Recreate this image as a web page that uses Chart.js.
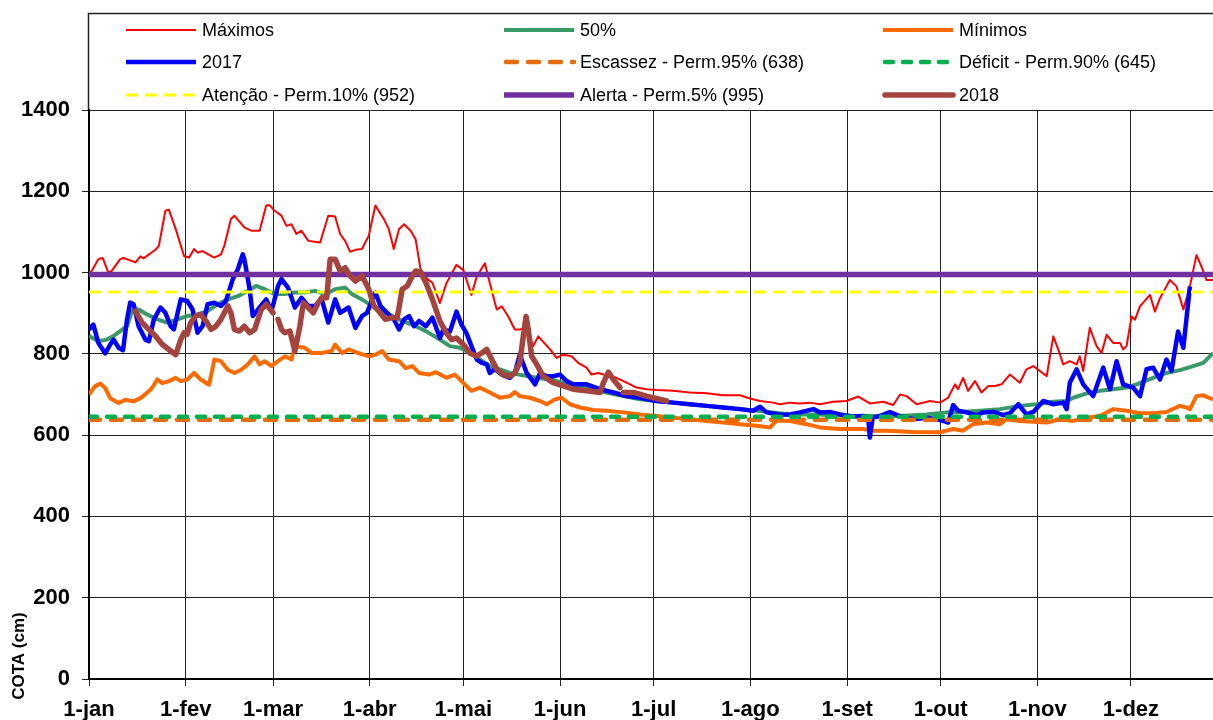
<!DOCTYPE html>
<html><head><meta charset="utf-8">
<script src="https://cdn.jsdelivr.net/npm/chart.js@4.4.1/dist/chart.umd.min.js"></script>
<style>html,body{margin:0;padding:0;background:#fff;overflow:hidden}#wrap{width:1213px;height:720px;position:relative}canvas{display:block}</style>
</head><body><div id="wrap"><canvas id="c" width="1213" height="720"></canvas></div>
<script>
// ---- axes ----
const monthDays = [0,31,59,90,120,151,181,212,243,273,304,334];
const monthLabels = ['1-jan','1-fev','1-mar','1-abr','1-mai','1-jun','1-jul','1-ago','1-set','1-out','1-nov','1-dez'];
const yTicks = [0,200,400,600,800,1000,1200,1400];

// ---- reference levels ----
const escassez = 638, deficit = 645, atencao = 952, alerta = 995;

// ---- Máximos ----
const maxDays = [0,3.0,4.4,6.2,7.3,10.0,11.1,14.9,16.5,17.5,21.3,22.4,24.5,25.6,27.8,30.5,32.1,33.7,34.8,36.4,39.1,40.2,42.3,43.4,45.5,46.6,49.8,52.0,54.7,56.8,57.9,59.5,61.7,63.3,64.9,66.5,68.1,70.3,72.4,74.1,76.7,78.9,80.5,82.1,83.7,85.4,87.5,89.7,91.8,94.5,96.1,97.7,99.4,101.0,103.1,104.7,106.3,108.5,110.1,
 112.5,114.6,117.8,120.0,122.6,124.3,126.9,128.5,130.7,132.3,134.4,136.5,138.1,140.3,142.4,144.0,147.8,149.9,152.0,154.7,156.8,159.5,161.1,163.2,165.9,169.1,172.3,175.5,178.7,181.9,187.3,192.6,198.0,203.3,208.7,211.9,215.1,219.3,221.5,224.7,227.9,231.1,
 234.3,238.6,242.8,246.6,250.3,254.6,257.8,260.0,262.1,265.3,269.6,272.8,275.4,277.6,278.6,280.2,281.8,284.0,286.1,288.3,290.4,292.5,295.2,298.4,300.5,302.7,307.0,309.1,310.7,312.3,314.4,316.6,317.6,318.7,320.8,323.0,324.6,326.2,328.3,330.5,331.5,332.6,334.2,335.3,336.9,340.1,341.7,343.3,346.5,348.6,350.8,352.9,355.0,356.6,358.2,360.3];
const maxVals = [992,1033,1036,1000,1004,1033,1036,1025,1040,1035,1056,1066,1152,1155,1107,1040,1037,1058,1049,1053,1041,1037,1045,1066,1132,1140,1111,1103,1103,1165,1166,1152,1140,1115,1119,1095,1103,1078,1076,1074,1140,1138,1095,1078,1051,1056,1058,1091,1165,1132,1107,1058,1107,1119,1103,1082,1008,984,975,
 925,974,1019,1006,945,990,1023,974,909,917,892,860,860,864,819,843,811,790,798,794,778,766,749,753,747,741,729,717,713,711,709,705,703,698,698,690,684,680,676,680,678,680,
 676,682,684,695,678,682,674,700,696,676,684,680,692,725,713,741,709,733,705,721,721,725,749,729,762,770,745,843,811,774,782,774,794,758,864,819,802,847,827,827,811,819,892,884,917,945,904,937,982,966,909,966,1043,1015,982,982];

// ---- 50% ----
const medDays = [0,3.0,5.7,7.9,10.0,12.2,13.8,15.9,18.6,21.9,25.1,28.3,31.5,34.8,38.0,41.2,44.5,47.7,50.9,53.6,56.3,59.5,62.8,66.0,69.2,72.4,75.7,78.9,82.1,84.3,87.5,90.7,94.0,97.2,100.4,104.7,108.0,
 112.5,115.7,118.9,122.1,125.3,128.5,131.7,134.9,139.2,143.5,147.8,152.0,156.3,160.6,165.9,171.3,176.6,181.9,187.3,192.6,198.0,203.3,208.7,214.0,219.3,224.7,230.0,
 234.3,242.8,251.4,259.9,268.5,274.9,279.2,285.6,292.0,298.4,303.7,309.1,313.4,315.5,319.8,324.0,328.3,332.6,335.8,341.1,345.4,349.7,354.0,357.2,360.3];
const medVals = [844,831,835,844,856,868,905,909,897,885,877,885,893,897,905,922,934,942,955,967,959,947,947,951,951,955,947,959,963,947,934,918,905,893,881,868,856,
 835,819,815,802,786,770,762,753,747,741,737,729,721,713,705,696,688,684,680,676,672,668,664,660,656,651,651,
 651,647,647,647,651,656,657,660,664,672,676,682,684,692,703,709,713,717,725,741,753,760,770,778,802];

// ---- Mínimos ----
const minDays = [0,1.9,3.6,5.2,6.8,9.5,11.6,14.3,16.5,18.6,20.2,21.9,23.5,25.6,27.8,29.4,31.5,33.7,35.8,38.5,40.2,42.3,44.5,46.6,48.8,50.9,53.1,54.7,56.3,58.5,60.6,62.8,64.9,66.0,69.2,71.4,74.6,77.8,78.9,81.1,83.2,86.4,89.7,91.8,94.0,96.1,99.4,101.5,103.7,105.8,109.0,111.2,
 114.6,117.3,119.4,122.6,125.3,128.5,131.7,134.9,136.5,138.1,141.3,144.6,146.7,149.4,151.5,154.2,157.4,161.6,165.9,171.3,176.6,181.9,187.3,192.6,198.0,203.3,208.7,214.0,218.3,220.4,224.7,230.0,
 234.3,240.7,248.2,251.4,255.7,264.2,272.8,274.9,277.0,280.2,283.4,287.7,292.0,294.1,298.4,302.7,307.0,311.2,315.5,319.8,324.0,328.3,332.6,336.9,341.1,345.4,347.6,349.7,351.8,352.9,355.0,357.2,360.3];
const minVals = [700,720,727,716,691,679,687,683,691,704,716,737,728,733,741,733,737,753,737,724,786,782,761,753,761,774,794,774,782,770,782,794,786,819,815,802,802,807,823,802,811,802,794,798,807,786,782,765,770,753,749,755,
 741,749,733,709,717,705,692,696,706,696,692,684,676,688,692,676,668,662,660,656,651,647,643,639,635,631,627,623,619,636,635,627,
 619,615,615,611,611,608,607,611,615,611,627,631,627,639,635,633,631,639,635,643,647,664,660,654,654,657,665,672,668,664,696,698,688];

// ---- 2017 ----
const y17Days = [0,1.4,3.0,5.2,6.8,7.9,9.5,10.9,12.2,13.2,14.3,15.9,18.1,19.2,20.8,22.9,24.5,26.2,27.2,29.4,31.5,33.2,34.8,36.4,38.0,40.2,42.3,43.9,46.1,47.7,49.3,49.8,51.5,52.5,54.7,56.8,58.5,60.6,61.7,63.8,66.0,68.1,70.3,72.4,74.6,76.7,78.9,80.5,83.2,85.4,87.5,89.1,91.8,93.4,95.0,97.7,99.4,101.0,102.6,104.2,105.8,108.0,110.1,
 112.5,113.6,115.7,117.8,119.4,121.0,122.6,124.3,125.9,127.5,128.5,130.1,132.3,134.9,136.5,138.1,140.3,143.0,144.6,146.7,148.8,151.0,153.1,155.2,159.5,163.8,168.1,172.3,176.6,181.9,187.3,192.6,198.0,203.3,208.7,212.9,215.1,217.2,221.5,224.7,227.9,232.2,
 234.3,237.5,240.7,245.0,248.2,249.8,250.3,251.2,253.5,256.7,259.9,264.2,268.5,271.7,273.8,275.4,277.0,278.6,281.3,284.5,286.6,289.9,293.1,295.2,297.9,300.5,302.7,305.9,309.1,312.3,313.4,314.4,316.6,318.7,321.9,325.1,327.3,329.4,331.5,334.7,336.9,339.0,341.1,343.3,345.4,347.0,349.1,350.8,352.9];
const y17Vals = [860,872,827,801,823,835,815,809,885,926,922,868,835,831,885,914,901,868,860,934,930,909,852,868,922,926,918,930,984,1008,1045,1033,959,893,914,934,905,967,984,963,914,938,918,918,934,877,934,901,914,864,893,901,951,918,905,885,860,885,893,868,881,868,889,
 839,860,855,904,872,851,819,786,778,774,753,762,749,741,753,798,753,725,753,745,745,749,733,725,725,713,705,696,692,684,680,676,672,668,664,660,670,656,650,651,656,664,
 656,657,651,646,647,643,594,643,647,657,647,639,643,639,635,631,674,660,656,649,656,657,649,654,676,651,657,684,676,680,664,729,762,725,696,766,713,782,725,717,696,762,766,737,786,758,855,815,966];

// ---- 2018 (null = missing day) ----
const y18Days = [14.9,17.0,19.7,21.3,23.5,26.2,27.8,29.4,30.5,31.5,32.6,34.2,35.8,37.5,39.1,40.7,42.3,44.5,45.5,46.6,48.2,49.8,51.5,53.1,55.2,56.8,59.0,59.8,60.6,61.7,62.8,64.4,66.0,67.6,68.7,70.3,71.9,73.5,74.6,76.2,77.3,78.9,80.5,82.1,83.7,85.4,87.5,89.7,91.3,92.9,95.0,97.2,98.8,100.4,102.0,103.7,104.7,106.3,108.0,110.1,
 112.5,114.6,116.2,117.8,120.0,122.1,124.3,125.9,127.5,129.1,130.7,132.8,134.9,136.5,138.1,139.2,140.1,140.8,141.9,143.5,145.6,148.8,152.0,155.2,159.5,163.8,164.9,166.5,168.1,170.2,170.8,171.3,174.5,178.7,185.2];
const y18Vals = [905,877,856,844,823,807,798,835,852,848,877,893,897,881,860,868,885,918,901,860,856,868,852,860,909,922,901,null,885,860,852,856,807,868,926,914,901,926,938,938,1033,1033,1004,1012,992,979,992,959,918,905,885,889,889,959,967,992,1004,1000,975,934,
 880,851,835,839,823,802,794,802,811,786,762,749,745,753,778,843,892,860,794,774,745,729,721,713,709,705,729,755,737,717,null,705,705,696,684];

const FONT = '"Liberation Sans", Arial, Helvetica, sans-serif';
function xy(d, v){ return d.map((x,i)=>({x:x, y:v[i]})); }
function flat(v){ return [{x:0,y:v},{x:366,y:v}]; }

const series = [
  {label:'Máximos', data:xy(maxDays,maxVals), color:'#FF0000', w:2, dash:[], cap:'butt', order:8, col:0,row:0},
  {label:'50%', data:xy(medDays,medVals), color:'#3A9A67', w:4, dash:[], cap:'butt', order:7, col:1,row:0},
  {label:'Mínimos', data:xy(minDays,minVals), color:'#FF6A00', w:4, dash:[], cap:'butt', order:6, col:2,row:0},
  {label:'2017', data:xy(y17Days,y17Vals), color:'#0000FF', w:4.5, dash:[], cap:'butt', order:5, col:0,row:1},
  {label:'Escassez - Perm.95% (638)', data:flat(escassez), color:'#E46C0A', w:4.5, dash:[11,11], cap:'round', order:4, col:1,row:1},
  {label:'Déficit - Perm.90% (645)', data:flat(deficit), color:'#00B050', w:4.5, dash:[8,10], cap:'round', order:3, col:2,row:1},
  {label:'Atenção - Perm.10% (952)', data:flat(atencao), color:'#FFFF00', w:3, dash:[12,7], cap:'butt', order:2, col:0,row:2},
  {label:'Alerta - Perm.5% (995)', data:flat(alerta), color:'#7030A0', w:5.5, dash:[], cap:'butt', order:1, col:1,row:2},
  {label:'2018', data:xy(y18Days,y18Vals), color:'#A5443F', w:5.5, dash:[], cap:'round', order:0, col:2,row:2},
];

const legendPlugin = {
  id:'customLegend',
  beforeDraw(chart){
    const c = chart.ctx; c.save(); c.fillStyle='#fff'; c.fillRect(0,0,chart.width,chart.height); c.restore();
  },
  afterDraw(chart){
    const c = chart.ctx;
    c.save();
    c.strokeStyle='#222'; c.lineWidth=1.5;
    c.beginPath(); c.moveTo(88.5,110); c.lineTo(88.5,13.5); c.lineTo(1213,13.5); c.stroke();
    const colX=[126,504,883], rowY=[30,62,95];
    c.font = '18px '+FONT; c.textBaseline='middle'; c.textAlign='left';
    series.forEach(s=>{
      const x=colX[s.col], y=rowY[s.row];
      c.beginPath(); c.strokeStyle=s.color; c.lineWidth=s.w; c.setLineDash(s.dash); c.lineCap=s.cap;
      c.moveTo(x+ (s.cap==='round'?2:0), y); c.lineTo(x+70, y); c.stroke();
      c.setLineDash([]);
      c.fillStyle='#000'; c.fillText(s.label, x+76, y+1);
    });
    c.translate(19,656); c.rotate(-Math.PI/2);
    c.font='bold 17px '+FONT; c.textAlign='center'; c.textBaseline='middle'; c.fillStyle='#000';
    c.fillText('COTA (cm)',0,0);
    c.restore();
  }
};

new Chart(document.getElementById('c'), {
  type:'line',
  data:{ datasets: series.map(s=>({
    label:s.label, data:s.data, borderColor:s.color, backgroundColor:s.color, borderWidth:s.w,
    borderDash:s.dash, borderCapStyle:s.cap, borderJoinStyle:'round', pointRadius:0, pointHoverRadius:0,
    tension:0, spanGaps:false, fill:false, order:s.order
  }))},
  options:{
    responsive:false, animation:false, devicePixelRatio:1,
    layout:{ padding:{ top:110, left:0, right:0, bottom:0 } },
    plugins:{ legend:{display:false}, tooltip:{enabled:false} },
    scales:{
      x:{ type:'linear', min:0, max:360.3,
        afterBuildTicks:(s)=>{ s.ticks = monthDays.map(v=>({value:v})); },
        afterFit:(s)=>{ s.height = 41; },
        ticks:{ autoSkip:false, maxRotation:0, minRotation:0, padding:11, color:'#000',
          font:{ family:FONT, size:22, weight:'bold' },
          callback:(v,i)=>monthLabels[i] },
        grid:{ color:'#222', lineWidth:1, tickLength:7 },
        border:{ color:'#000', width:2 }
      },
      y:{ min:0, max:1400,
        afterBuildTicks:(s)=>{ s.ticks = yTicks.map(v=>({value:v})); },
        afterFit:(s)=>{ s.width = 89; },
        ticks:{ padding:12, color:'#000', font:{ family:FONT, size:22, weight:'bold' },
          callback:(v)=>String(v) },
        grid:{ color:'#222', lineWidth:1, tickLength:7 },
        border:{ color:'#000', width:2 }
      }
    }
  },
  plugins:[legendPlugin]
});
</script></body></html>
